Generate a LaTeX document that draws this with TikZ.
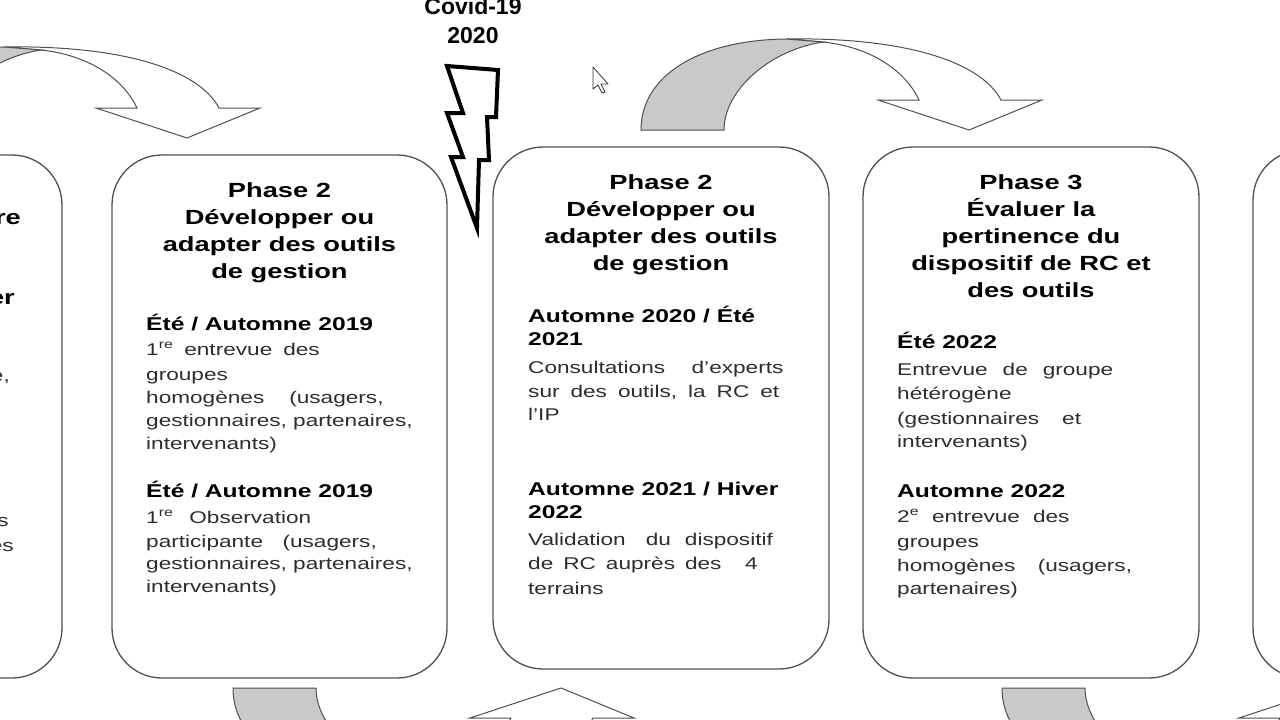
\documentclass[tikz,border=0pt]{standalone}
\usepackage{fontspec}
\setmainfont{Liberation Sans}[FakeStretch=1.33]
\newfontfamily\covidfont{Liberation Sans}
\definecolor{arrowgray}{RGB}{200,201,201}
\definecolor{boxline}{RGB}{80,80,80}
\definecolor{bodygray}{RGB}{45,45,45}
\tikzset{
  phasebox/.style={draw=boxline, line width=1.3pt, rounded corners=50pt, fill=white, inner sep=0pt},
  headtxt/.style={font=\fontsize{20.5}{24}\selectfont\bfseries, text=black, inner sep=0pt, anchor=base},
  datetxt/.style={font=\fontsize{18.5}{22}\selectfont\bfseries, text=black, inner sep=0pt, anchor=base west},
  bodytxt/.style={font=\fontsize{17}{20}\selectfont, text=bodygray, inner sep=0pt, anchor=base west},
  cuttxt/.style={inner sep=0pt, anchor=base east},
  bandwhite/.style={fill=white, draw=boxline, line width=1pt, line join=miter},
  bandgray/.style={fill=arrowgray, draw=boxline, line width=1pt, line join=miter},
  boltshape/.style={fill=white, draw=black, line width=4pt, line join=miter},
  covidtxt/.style={font=\covidfont\fontsize{23}{28}\selectfont\bfseries, inner sep=0pt, anchor=base},
}
\newcommand\curvedarrowshape{%
  \draw[bandwhite] (786,39) .. controls (900,37) and (980,60) .. (1001,100)
     -- (1042,100) -- (969,130) -- (878,100) -- (919,100)
     .. controls (905,70) and (870,47) .. (823,42) -- cycle;
  \draw[bandgray] (641,130) .. controls (641,75) and (700,40) .. (786,39)
     -- (823,42) .. controls (770,50) and (724,90) .. (724,130) -- cycle;
}
\newcommand\gap[1]{\hspace{#1pt}}
\begin{document}
\begin{tikzpicture}[x=1pt,y=-1pt]
\useasboundingbox (0,0) rectangle (1280,720);
\fill[white] (0,0) rectangle (1280,720);
\clip (0,0) rectangle (1280,720);

% curved arrows
\curvedarrowshape
\begin{scope}[shift={(-782,8)}]\curvedarrowshape\end{scope}
\begin{scope}[shift={(-408,818)}, yscale=-1]\curvedarrowshape\end{scope}
\begin{scope}[shift={(361,818)}, yscale=-1]\curvedarrowshape\end{scope}

% boxes
\node[phasebox, minimum width=362pt, minimum height=523pt] (b0) at (-119,416.5) {};
\node[phasebox, minimum width=335pt, minimum height=523pt] (b1) at (279.5,416.5) {};
\node[phasebox, minimum width=336pt, minimum height=522pt] (b2) at (661,408) {};
\node[phasebox, minimum width=336pt, minimum height=531pt] (b3) at (1031,412.5) {};
\node[phasebox, minimum width=347pt, minimum height=528pt] (b4) at (1426.5,414) {};

% left cut-off box text
\node[cuttxt, font=\fontsize{20.5}{24}\selectfont\bfseries] (c1) at (21,224) {re};
\node[cuttxt, font=\fontsize{20.5}{24}\selectfont\bfseries] (c2) at (15,304) {er};
\node[cuttxt, font=\fontsize{17}{20}\selectfont, text=bodygray] (c3) at (10,381) {e,};
\node[cuttxt, font=\fontsize{17}{20}\selectfont, text=bodygray] (c4) at (9,526) {s};
\node[cuttxt, font=\fontsize{17}{20}\selectfont, text=bodygray] (c5) at (14,551) {es};

% box 1
\node[headtxt] (h1a) at (279.5,197) {Phase 2};
\node[headtxt] (h1b) at (279.5,224) {Développer ou};
\node[headtxt] (h1c) at (279.5,251) {adapter des outils};
\node[headtxt] (h1d) at (279.5,278) {de gestion};
\node[datetxt] (d1a) at (146,330) {Été / Automne 2019};
\node[bodytxt] (t1a) at (146,355) {1\textsuperscript{re}\gap{11}entrevue\gap{11}des};
\node[bodytxt] (t1b) at (146,380) {groupes};
\node[bodytxt] (t1c) at (146,403) {homogènes\gap{25}(usagers,};
\node[bodytxt] (t1d) at (146,426) {gestionnaires, partenaires,};
\node[bodytxt] (t1e) at (146,449) {intervenants)};
\node[datetxt] (d1b) at (146,497) {Été / Automne 2019};
\node[bodytxt] (t1f) at (146,523) {1\textsuperscript{re}\gap{16}Observation};
\node[bodytxt] (t1g) at (146,547) {participante\gap{19.5}(usagers,};
\node[bodytxt] (t1h) at (146,569) {gestionnaires, partenaires,};
\node[bodytxt] (t1i) at (146,592) {intervenants)};

% box 2
\node[headtxt] (h2a) at (661,189) {Phase 2};
\node[headtxt] (h2b) at (661,216) {Développer ou};
\node[headtxt] (h2c) at (661,243) {adapter des outils};
\node[headtxt] (h2d) at (661,270) {de gestion};
\node[datetxt] (d2a) at (528,322) {Automne 2020 / Été};
\node[datetxt] (d2b) at (528,345) {2021};
\node[bodytxt] (t2a) at (528,373) {Consultations\gap{26.5}d’experts};
\node[bodytxt] (t2b) at (528,397) {sur\gap{11}des\gap{11}outils,\gap{11}la\gap{11}RC\gap{11}et};
\node[bodytxt] (t2c) at (528,420) {l’IP};
\node[datetxt] (d2c) at (528,495) {Automne 2021 / Hiver};
\node[datetxt] (d2d) at (528,518) {2022};
\node[bodytxt] (t2d) at (528,545) {Validation\gap{20}du\gap{14}dispositif};
\node[bodytxt] (t2e) at (528,569) {de\gap{10}RC\gap{10}auprès\gap{10}des\gap{23.5}4};
\node[bodytxt] (t2f) at (528,594) {terrains};

% box 3
\node[headtxt] (h3a) at (1031,189) {Phase 3};
\node[headtxt] (h3b) at (1031,216) {Évaluer la};
\node[headtxt] (h3c) at (1031,243) {pertinence du};
\node[headtxt] (h3d) at (1031,270) {dispositif de RC et};
\node[headtxt] (h3e) at (1031,297) {des outils};
\node[datetxt] (d3a) at (897,348) {Été 2022};
\node[bodytxt] (t3a) at (897,375) {Entrevue\gap{15}de\gap{15}groupe};
\node[bodytxt] (t3b) at (897,399) {hétérogène};
\node[bodytxt] (t3c) at (897,424) {(gestionnaires\gap{23}et};
\node[bodytxt] (t3d) at (897,447) {intervenants)};
\node[datetxt] (d3b) at (897,497) {Automne 2022};
\node[bodytxt] (t3e) at (897,522) {2\textsuperscript{e}\gap{13}entrevue\gap{13}des};
\node[bodytxt] (t3f) at (897,547) {groupes};
\node[bodytxt] (t3g) at (897,571) {homogènes\gap{22.5}(usagers,};
\node[bodytxt] (t3h) at (897,594) {partenaires)};

% Covid label and lightning bolt
\node[covidtxt] (cv1) at (473,14) {Covid-19};
\node[covidtxt] (cv2) at (473,43) {2020};
\draw[boltshape] (447,66) -- (498,70) -- (496,117) -- (487,117) -- (489,160)
   -- (479,160) -- (477,228) -- (451,157) -- (463,157) -- (447,113)
   -- (463,113) -- cycle;

% mouse pointer
\draw[fill=white, draw=black!80, line width=0.8pt, line join=round]
  (593,67) -- (593,89) -- (598,85) -- (602,93) -- (605,92) -- (601,84) -- (608,84) -- cycle;
\end{tikzpicture}
\end{document}
